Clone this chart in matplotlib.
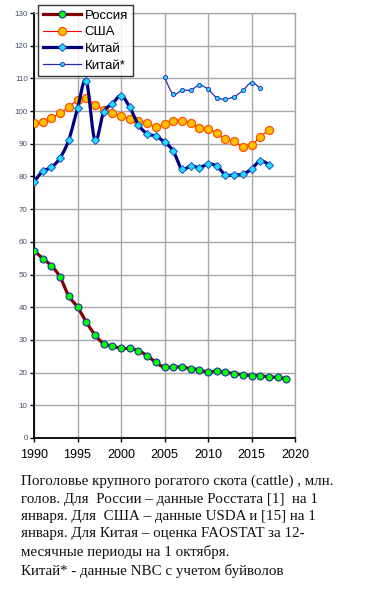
import numpy as np
import matplotlib
matplotlib.use("Agg")
import matplotlib.pyplot as plt
from matplotlib.lines import Line2D

# ---- data ----
years_ru = list(range(1990, 2020))
russia = [57.3, 54.9, 52.7, 49.2, 43.4, 40.1, 35.5, 31.6, 28.9, 28.1,
          27.4, 27.4, 26.7, 25.2, 23.1, 21.6, 21.7, 21.7, 21.2, 20.9,
          20.1, 20.5, 20.1, 19.7, 19.3, 19.1, 19.1, 18.6, 18.6, 18.1]
years_us = list(range(1990, 2018))
usa = [96.3, 96.6, 97.9, 99.4, 101.3, 103.3, 103.9, 102.0, 100.4, 99.4,
       98.6, 97.6, 97.1, 96.3, 95.2, 95.9, 97.1, 97.1, 96.3, 94.9,
       94.5, 93.3, 91.4, 90.7, 89.1, 89.5, 92.2, 94.2]
years_cn = list(range(1990, 2018))
china = [78.3, 81.6, 82.8, 85.7, 91.2, 100.8, 109.3, 91.1, 99.7, 102.2,
         104.7, 101.2, 95.8, 93.1, 92.3, 90.5, 87.8, 82.2, 83.3, 82.7,
         83.8, 83.2, 80.5, 80.5, 80.7, 82.3, 84.8, 83.6]
years_cn2 = list(range(2005, 2017))
china_nbc = [110.3, 105.2, 106.4, 106.4, 107.9, 106.7, 104.1, 103.7,
             104.4, 106.3, 108.7, 107.0]
series_names = ["Россия", "США", "Китай", "Китай*"]
x_ticks = [1990, 1995, 2000, 2005, 2010, 2015, 2020]
y_ticks = list(range(0, 131, 10))
caption = ("Поголовье крупного рогатого скота (cattle) , млн.\n"
           "голов. Для  России – данные Росстата [1]  на 1\n"
           "января. Для  США – данные USDA и [15] на 1\n"
           "января. Для Китая – оценка FAOSTAT за 12-\n"
           "месячные периоды на 1 октября.\n"
           "Китай* - данные NBC с учетом буйволов")


def smooth(xs, ys, n=20):
    """Excel-like smoothed line (Catmull-Rom Bezier through data points)."""
    xs = np.asarray(xs, float)
    ys = np.asarray(ys, float)
    P = np.column_stack([xs, ys])
    out = [P[0]]
    t = np.linspace(0, 1, n + 1)[1:]
    for i in range(len(P) - 1):
        p0 = P[i - 1] if i > 0 else P[i]
        p1 = P[i]
        p2 = P[i + 1]
        p3 = P[i + 2] if i + 2 < len(P) else P[i + 1]
        c1 = p1 + (p2 - p0) / 6.0
        c2 = p2 - (p3 - p1) / 6.0
        for tt in t:
            b = ((1 - tt) ** 3) * p1 + 3 * ((1 - tt) ** 2) * tt * c1 \
                + 3 * (1 - tt) * tt ** 2 * c2 + tt ** 3 * p2
            out.append(b)
    out = np.array(out)
    return out[:, 0], out[:, 1]


W, H = 368, 593
fig = plt.figure(figsize=(W / 100, H / 100), dpi=100)
ax = fig.add_axes([34 / W, 1 - 438 / H, (295 - 34) / W, (438 - 13) / H])

ax.set_xlim(1990, 2020)
ax.set_ylim(0, 130)
ax.set_xticks(x_ticks)
ax.set_yticks(y_ticks)
ax.grid(True, color="#a8a8a8", linewidth=1.0)
ax.set_axisbelow(True)
for s in ["top", "right"]:
    ax.spines[s].set_color("#a8a8a8")
    ax.spines[s].set_linewidth(1.0)
for s in ["left", "bottom"]:
    ax.spines[s].set_color("black")
    ax.spines[s].set_linewidth(1.3)

ax.tick_params(axis="y", labelsize=5.8, labelcolor="#44506a", length=3,
               width=1, direction="out", pad=1.5)
ax.tick_params(axis="x", labelsize=9, labelcolor="black", length=3,
               width=1, direction="out", pad=5)
for lab in ax.get_xticklabels() + ax.get_yticklabels():
    lab.set_fontfamily("Liberation Sans")

# styles (sizes in points at 100 dpi)
st_ru = dict(color="#800000", lw=2.3, marker="o", ms=5.0, mfc="#00ff00",
             mec="#2030a0", mew=0.8)
st_us = dict(color="#ff0000", lw=0.8, marker="o", ms=5.8, mfc="#ffc000",
             mec="#ff5000", mew=0.9)
st_cn = dict(color="#000080", lw=2.3, marker="D", ms=4.0, mfc="#22ddff",
             mec="#1a50c0", mew=0.7)
st_cn2 = dict(color="#2a2aa8", lw=0.9, marker="o", ms=3.0, mfc="#22ddff",
              mec="#2a40c0", mew=0.7)


def draw(xs, ys, st, z):
    sx, sy = smooth(xs, ys)
    ax.plot(sx, sy, color=st["color"], lw=st["lw"], zorder=z)
    ax.plot(xs, ys, ls="none", marker=st["marker"], ms=st["ms"],
            mfc=st["mfc"], mec=st["mec"], mew=st["mew"], zorder=z + 1)


draw(years_us, usa, st_us, 3)
draw(years_cn, china, st_cn, 5)
draw(years_cn2, china_nbc, st_cn2, 5)
draw(years_ru, russia, st_ru, 5)

handles = [Line2D([], [], **st) for st in (st_ru, st_us, st_cn, st_cn2)]
leg = fig.legend(handles, series_names, loc="upper left",
                 bbox_to_anchor=(38 / W, 1 - 5 / H),
                 prop={"family": "Liberation Sans", "size": 9.5},
                 frameon=True, fancybox=False, edgecolor="black",
                 handlelength=2.9, handletextpad=0.3, borderpad=0.35,
                 labelspacing=0.33, borderaxespad=0)
leg.get_frame().set_linewidth(1.0)

fig.text(21 / W, 1 - 475 / H, caption, ha="left", va="top",
         family="Liberation Serif", fontsize=10.8, linespacing=1.43,
         color="#111111")

fig.savefig("out.png", dpi=100)
